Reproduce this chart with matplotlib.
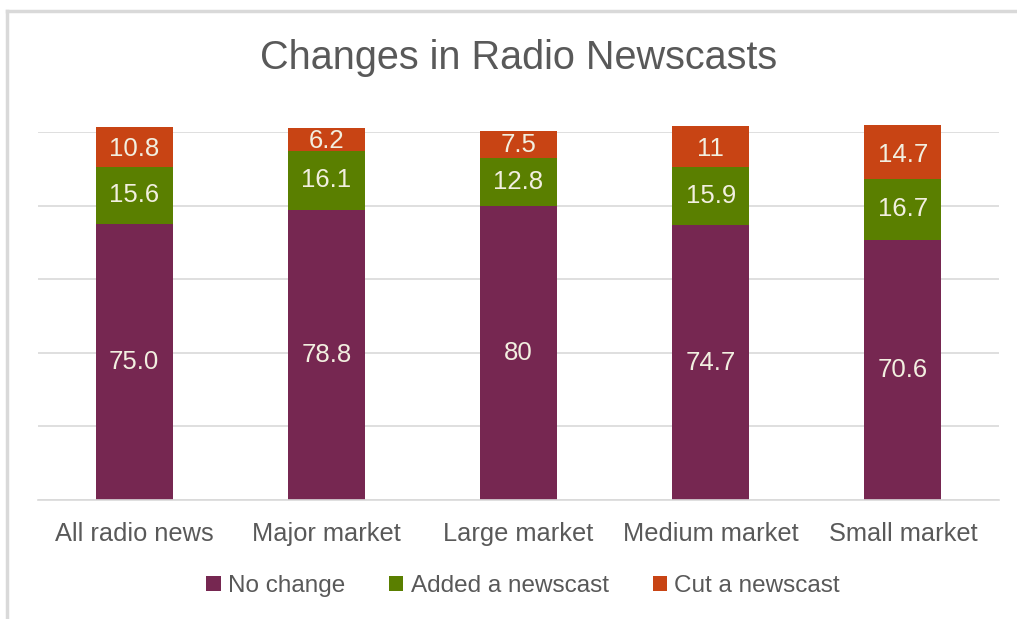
import numpy as np
import matplotlib
matplotlib.use('Agg')
import matplotlib.pyplot as plt
from matplotlib.lines import Line2D

plt.rcParams['font.family'] = ['Liberation Sans', 'DejaVu Sans']

categories = ['All radio news', 'Major market', 'Large market', 'Medium market', 'Small market']
no_change = [75.0, 78.8, 80, 74.7, 70.6]
added = [15.6, 16.1, 12.8, 15.9, 16.7]
cut = [10.8, 6.2, 7.5, 11, 14.7]
no_change_lbl = ['75.0', '78.8', '80', '74.7', '70.6']
added_lbl = ['15.6', '16.1', '12.8', '15.9', '16.7']
cut_lbl = ['10.8', '6.2', '7.5', '11', '14.7']

PURPLE = '#762751'
GREEN = '#5a7f00'
ORANGE = '#c84414'
GREY = '#595959'
LBL = '#f2efe0'

W, H = 1017, 619
fig = plt.figure(figsize=(W / 100, H / 100), dpi=100)
ax = fig.add_axes([38 / W, 1 - 500 / H, 961 / W, 368 / H])

x = np.arange(len(categories))
bw = 0.40
b1 = ax.bar(x, no_change, bw, color=PURPLE, label='No change', zorder=2)
b2 = ax.bar(x, added, bw, bottom=no_change, color=GREEN, label='Added a newscast', zorder=2)
bottom3 = np.array(no_change) + np.array(added)
b3 = ax.bar(x, cut, bw, bottom=bottom3, color=ORANGE, label='Cut a newscast', zorder=2)

for bars, lbls in ((b1, no_change_lbl), (b2, added_lbl), (b3, cut_lbl)):
    ax.bar_label(bars, labels=lbls, label_type='center', color=LBL, fontsize=18.5)

ax.set_xlim(-0.5, len(categories) - 0.5)
ax.set_ylim(0, 100)
ax.set_yticks(np.arange(0, 101, 20))
ax.yaxis.grid(True, color='#d9d9d9', lw=1.2, zorder=0)
ax.tick_params(axis='y', left=False, labelleft=False)
ax.tick_params(axis='x', bottom=False, labelsize=18.3, labelcolor=GREY, pad=12)
ax.set_xticks(x)
ax.set_xticklabels(categories)
for s in ['top', 'right', 'left']:
    ax.spines[s].set_visible(False)
ax.spines['bottom'].set_color('#d9d9d9')
ax.spines['bottom'].set_linewidth(1.2)
for b in list(b1) + list(b2) + list(b3):
    b.set_clip_on(False)

fig.text(519 / W, 1 - 58 / H, 'Changes in Radio Newscasts', ha='center', va='center',
         fontsize=28.5, color=GREY)

leg = fig.legend(handles=[b1, b2, b3], loc='center', bbox_to_anchor=(523 / W, 1 - 586 / H),
                 ncol=3, frameon=False, fontsize=17.5, labelcolor=GREY,
                 handlelength=0.6, handleheight=0.6, handletextpad=0.3, columnspacing=1.8)

# outer chart frame (top and left edges)
fig.add_artist(Line2D([6.5 / W, 1], [1 - 11 / H, 1 - 11 / H], color='#d9d9d9', lw=2.5))
fig.add_artist(Line2D([6.5 / W, 6.5 / W], [0, 1 - 11 / H], color='#d9d9d9', lw=2.5))

fig.savefig('out.png', dpi=100)
